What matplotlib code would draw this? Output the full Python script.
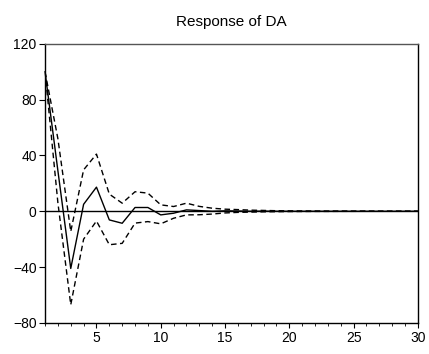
import numpy as np
import matplotlib
matplotlib.use('Agg')
from matplotlib import pyplot as plt
from matplotlib.ticker import MultipleLocator

# impulse response of DA with +/- 2 s.e. bands
periods = np.arange(1, 31)
resp = [100, 29, -41, 5, 17.3, -6.2, -8.6, 2.7, 2.7, -2.6,
        -1.4, 1.0, 0.5, 0.0, 0.3, 0.2, 0.0, 0.1, 0.0, 0.0,
        0.0, 0.0, 0.0, 0.0, 0.0, 0.0, 0.0, 0.0, 0.0, 0.0]
upper = [100, 52, -14.5, 29.7, 41, 12.3, 5.8, 14, 13, 4.6,
         3.4, 5.8, 3.5, 2.2, 1.5, 1.2, 0.8, 0.6, 0.4, 0.3,
         0.2, 0.15, 0.1, 0.1, 0.05, 0.05, 0.0, 0.0, 0.0, 0.0]
lower = [100, 6, -67, -20, -7, -24, -23, -8.5, -7.4, -9,
         -5, -2.6, -2.5, -2.0, -1.2, -0.8, -0.6, -0.4, -0.3, -0.2,
         -0.15, -0.1, -0.1, -0.05, -0.05, 0.0, 0.0, 0.0, 0.0, 0.0]

plt.rcParams['font.family'] = ['Liberation Sans', 'DejaVu Sans']

fig = plt.figure(figsize=(4.29, 3.54), dpi=100)
ax = fig.add_axes([0.105, 0.088, 0.869, 0.788])

ax.axhline(0, color='black', lw=1.0)
ax.plot(periods, resp, color='black', lw=1.0, clip_on=False)
ax.plot(periods, upper, color='black', lw=1.0, ls=(0, (4, 2.5)))
ax.plot(periods, lower, color='black', lw=1.0, ls=(0, (4, 2.5)))

ax.set_xlim(1, 30)
ax.set_ylim(-80, 120)
ax.xaxis.set_major_locator(MultipleLocator(5))
ax.xaxis.set_minor_locator(MultipleLocator(1))
ax.yaxis.set_major_locator(MultipleLocator(40))
ax.tick_params(which='both', direction='out', labelsize=10, top=False, right=False)
ax.tick_params(axis='y', which='major', length=4, pad=2)
ax.tick_params(axis='x', which='major', length=3.6, pad=2)
ax.tick_params(axis='x', which='minor', length=2.3)
for s in ax.spines.values():
    s.set_linewidth(1.0)
ax.spines['top'].set_color('#555555')

ax.set_title('Response of DA', fontsize=11, pad=13)

fig.savefig('out.png', dpi=100)
